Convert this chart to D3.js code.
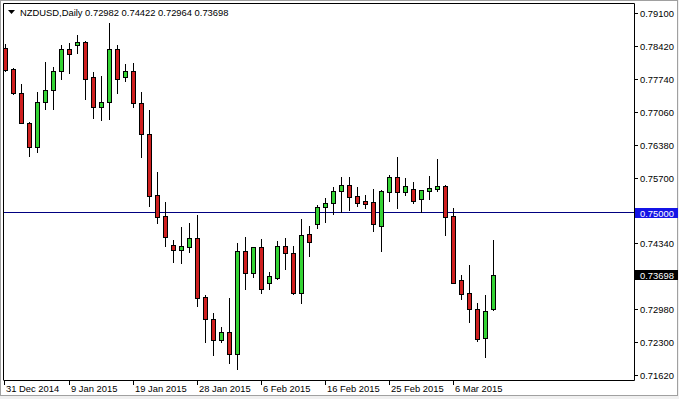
<!DOCTYPE html>
<html>
<head>
<meta charset="utf-8">
<script src="https://cdn.jsdelivr.net/npm/d3@7"></script>
<style>
  html, body { margin: 0; padding: 0; background: #f0f0f0; }
  svg { display: block; }
  text { font-family: "Liberation Sans", Arial, sans-serif; font-size: 9.4px; fill: #000; }
</style>
</head>
<body>
<svg width="679" height="399"></svg>
<script>
// daily bars, Sunday sessions included (MT4 style)
var dates = [
  "31 Dec 2014", "1 Jan 2015", "2 Jan 2015", "4 Jan 2015", "5 Jan 2015", "6 Jan 2015", "7 Jan 2015", "8 Jan 2015",
  "9 Jan 2015", "11 Jan 2015", "12 Jan 2015", "13 Jan 2015", "14 Jan 2015", "15 Jan 2015", "16 Jan 2015", "18 Jan 2015",
  "19 Jan 2015", "20 Jan 2015", "21 Jan 2015", "22 Jan 2015", "23 Jan 2015", "25 Jan 2015", "26 Jan 2015", "27 Jan 2015",
  "28 Jan 2015", "29 Jan 2015", "30 Jan 2015", "1 Feb 2015", "2 Feb 2015", "3 Feb 2015", "4 Feb 2015", "5 Feb 2015",
  "6 Feb 2015", "8 Feb 2015", "9 Feb 2015", "10 Feb 2015", "11 Feb 2015", "12 Feb 2015", "13 Feb 2015", "15 Feb 2015",
  "16 Feb 2015", "17 Feb 2015", "18 Feb 2015", "19 Feb 2015", "20 Feb 2015", "22 Feb 2015", "23 Feb 2015", "24 Feb 2015",
  "25 Feb 2015", "26 Feb 2015", "27 Feb 2015", "1 Mar 2015", "2 Mar 2015", "3 Mar 2015", "4 Mar 2015", "5 Mar 2015",
  "6 Mar 2015", "8 Mar 2015", "9 Mar 2015", "10 Mar 2015", "11 Mar 2015", "12 Mar 2015"
];

var open = [
  0.78376, 0.77942, 0.77446, 0.76825, 0.76329, 0.77260, 0.77508, 0.77901,
  0.78356, 0.78438, 0.78507, 0.77777, 0.77156, 0.77260, 0.78356, 0.77777,
  0.77913, 0.77239, 0.76598, 0.75337, 0.74902, 0.74303, 0.74212, 0.74274,
  0.74454, 0.73227, 0.72772, 0.72342, 0.72507, 0.72049, 0.74179, 0.73736,
  0.74261, 0.73517, 0.73633, 0.74282, 0.74137, 0.73310, 0.74530, 0.74737,
  0.75088, 0.75171, 0.75432, 0.75543, 0.75322, 0.75219, 0.75192, 0.74708,
  0.75411, 0.75709, 0.75399, 0.75473, 0.75254, 0.75432, 0.75473, 0.75535,
  0.74909, 0.73585, 0.73310, 0.72979, 0.72380, 0.72982
];
var high = [
  0.78465, 0.77975, 0.77638, 0.76846, 0.77473, 0.78087, 0.77996, 0.78451,
  0.78480, 0.78651, 0.78521, 0.77880, 0.77797, 0.78906, 0.78445, 0.78045,
  0.78066, 0.77473, 0.77100, 0.75812, 0.75198, 0.74412, 0.74687, 0.74758,
  0.74923, 0.73275, 0.72909, 0.72617, 0.73207, 0.74344, 0.74468, 0.74270,
  0.74433, 0.73757, 0.74385, 0.74447, 0.74288, 0.74840, 0.74702, 0.75136,
  0.75275, 0.75502, 0.75709, 0.75709, 0.75514, 0.75343, 0.75467, 0.75446,
  0.75756, 0.76135, 0.75688, 0.75605, 0.75440, 0.75736, 0.76087, 0.75556,
  0.75068, 0.73689, 0.73895, 0.73103, 0.73275, 0.74422
];
var low = [
  0.77907, 0.77431, 0.76825, 0.76155, 0.76226, 0.77115, 0.77127, 0.77748,
  0.77872, 0.78285, 0.77334, 0.76941, 0.76894, 0.76908, 0.77446, 0.77706,
  0.77156, 0.76135, 0.75115, 0.74770, 0.74288, 0.73964, 0.73943, 0.74158,
  0.73054, 0.72309, 0.72038, 0.72309, 0.71875, 0.71739, 0.73393, 0.73653,
  0.73310, 0.73393, 0.73606, 0.73806, 0.73296, 0.73103, 0.74088, 0.74667,
  0.74778, 0.74950, 0.74998, 0.75033, 0.75122, 0.75080, 0.74605, 0.74191,
  0.75219, 0.75080, 0.75343, 0.75184, 0.74998, 0.75260, 0.75432, 0.74516,
  0.73529, 0.73186, 0.72723, 0.72330, 0.71985, 0.72964
];
var close = [
  0.77928, 0.77446, 0.76838, 0.76329, 0.77260, 0.77508, 0.77901, 0.78356,
  0.78252, 0.78500, 0.77748, 0.77156, 0.77260, 0.78356, 0.77735, 0.77913,
  0.77239, 0.76598, 0.75328, 0.74894, 0.74468, 0.74212, 0.74282, 0.74454,
  0.73219, 0.72779, 0.72342, 0.72507, 0.72049, 0.74179, 0.73736, 0.74261,
  0.73393, 0.73668, 0.74282, 0.74137, 0.73310, 0.74510, 0.74377, 0.75088,
  0.75171, 0.75432, 0.75543, 0.75308, 0.75171, 0.75165, 0.74737, 0.75426,
  0.75709, 0.75399, 0.75529, 0.75219, 0.75440, 0.75488, 0.75523, 0.74894,
  0.73529, 0.73296, 0.72979, 0.72365, 0.72950, 0.73698
];

var priceTicks = [0.79100, 0.78420, 0.77740, 0.77060, 0.76380, 0.75700, 0.74340, 0.72980, 0.72300, 0.71620];
var dateTickIndex = [0, 8, 16, 24, 32, 40, 48, 56];
var hLineLevel = 0.75000;
var symbol = "NZDUSD,Daily";

var svg = d3.select("svg");

// window frame
svg.append("rect").attr("x", 0).attr("y", 0).attr("width", 678).attr("height", 396)
   .attr("fill", "#fff");
svg.append("rect").attr("x", 0.5).attr("y", 0.5).attr("width", 677).attr("height", 395)
   .attr("fill", "none").attr("stroke", "#a0a0a0");

var plotL = 4, plotR = 634, plotT = 4, plotB = 380;

var x = d3.scaleLinear().domain([0, 61]).range([5, 493]);
var y = d3.scaleLinear().domain([0.71517, 0.79292]).range([plotB, plotT]);

// plot border
svg.append("path")
   .attr("d", "M" + (plotL - 0.5) + "," + plotB + "V" + (plotT - 0.5) + "H" + (plotR + 0.5) + "V" + (plotB + 0.5) + "H" + (plotL - 0.5))
   .attr("fill", "none").attr("stroke", "#000");

// horizontal level line
svg.append("line")
   .attr("x1", plotL).attr("x2", plotR)
   .attr("y1", Math.round(y(hLineLevel)) + 0.5).attr("y2", Math.round(y(hLineLevel)) + 0.5)
   .attr("stroke", "#000080");

// candles
var bars = d3.range(dates.length).map(function(i) {
  return {i: i, o: open[i], h: high[i], l: low[i], c: close[i]};
});

var candle = svg.append("g").selectAll("g").data(bars).enter().append("g");

candle.append("line")
   .attr("x1", function(d) { return Math.round(x(d.i)) + 0.5; })
   .attr("x2", function(d) { return Math.round(x(d.i)) + 0.5; })
   .attr("y1", function(d) { return Math.round(y(d.h)); })
   .attr("y2", function(d) { return Math.round(y(d.l)) + 1; })
   .attr("stroke", "#000");

candle.append("rect")
   .attr("x", function(d) { return Math.round(x(d.i)) - 2 + 0.5; })
   .attr("width", 4)
   .attr("y", function(d) { return Math.round(y(Math.max(d.o, d.c))) + 0.5; })
   .attr("height", function(d) { return Math.max(1, Math.round(y(Math.min(d.o, d.c))) - Math.round(y(Math.max(d.o, d.c)))); })
   .attr("fill", function(d) { return d.c >= d.o ? "#34d334" : "#cf1f1f"; })
   .attr("stroke", "#000");

// price axis
var yAxis = svg.append("g");
priceTicks.forEach(function(v) {
  var py = Math.round(y(v)) + 0.5;
  yAxis.append("line").attr("x1", plotR).attr("x2", plotR + 4).attr("y1", py).attr("y2", py).attr("stroke", "#000");
  yAxis.append("text").attr("x", 640).attr("y", py + 3.5).text(v.toFixed(5));
});

// level label
var ly = Math.round(y(hLineLevel));
svg.append("rect").attr("x", 635).attr("y", ly - 4).attr("width", 43).attr("height", 10).attr("fill", "#1414e6");
svg.append("text").attr("x", 640).attr("y", ly + 4.5).style("fill", "#fff").text(hLineLevel.toFixed(5));

// last price label
var lastClose = close[close.length - 1];
var cy = Math.round(y(lastClose));
svg.append("rect").attr("x", 635).attr("y", cy - 5).attr("width", 43).attr("height", 10).attr("fill", "#000");
svg.append("text").attr("x", 640).attr("y", cy + 3.5).style("fill", "#fff").text(lastClose.toFixed(5));

// date axis
var xAxis = svg.append("g");
dateTickIndex.forEach(function(i) {
  var px = Math.round(x(i)) + 0.5;
  if (i == 0) px = plotL + 0.5;
  xAxis.append("line").attr("x1", px).attr("x2", px).attr("y1", plotB).attr("y2", plotB + 5).attr("stroke", "#000");
  xAxis.append("text").attr("x", px + 1.5).attr("y", 392).text(dates[i]);
});

// header
svg.append("path").attr("d", "M8,10H15L11.5,14Z").attr("fill", "#000");
var last = bars[bars.length - 1];
svg.append("text").attr("x", 20).attr("y", 16)
   .text(symbol + "  " + [last.o, last.h, last.l, last.c].map(function(v) { return v.toFixed(5); }).join(" "));
</script>
</body>
</html>
